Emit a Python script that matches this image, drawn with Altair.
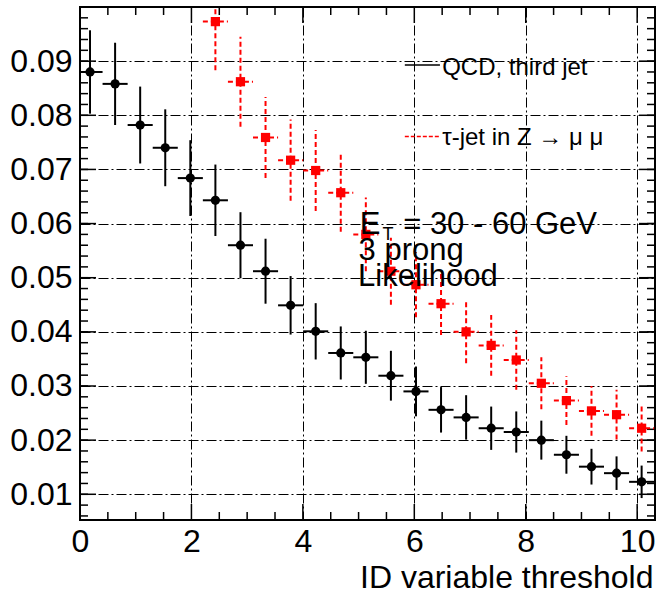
import altair as alt
import pandas as pd
import numpy as np

# ---- data ----
x_centers = [0.18, 0.63, 1.08, 1.53, 1.98, 2.43, 2.88, 3.33, 3.78, 4.23, 4.68, 5.13,
             5.58, 6.03, 6.48, 6.93, 7.38, 7.83, 8.28, 8.73, 9.18, 9.63, 10.08]
bin_half = 0.225
qcd_y = [0.0880, 0.0858, 0.0782, 0.0740, 0.0684, 0.0643, 0.0560, 0.0512, 0.0449, 0.0401,
         0.0361, 0.0353, 0.0319, 0.0290, 0.0256, 0.0242, 0.0222, 0.0215, 0.0200, 0.0173,
         0.0151, 0.0139, 0.0123]
qcd_err = [0.0077, 0.0076, 0.0071, 0.0071, 0.0070, 0.0066, 0.0061, 0.0060, 0.0054, 0.0052,
           0.0049, 0.0049, 0.0046, 0.0046, 0.0042, 0.0041, 0.0040, 0.0038, 0.0036, 0.0035,
           0.0033, 0.0031, 0.0030]
tau_x = x_centers[5:]
tau_y = [0.0973, 0.0862, 0.0759, 0.0717, 0.0698, 0.0657, 0.0580, 0.0512, 0.0487, 0.0452,
         0.0400, 0.0375, 0.0348, 0.0305, 0.0273, 0.0254, 0.0247, 0.0222]
tau_err = [0.0090, 0.0083, 0.0075, 0.0075, 0.0075, 0.0072, 0.0068, 0.0062, 0.0060, 0.0058,
           0.0058, 0.0056, 0.0055, 0.0048, 0.0045, 0.0046, 0.0046, 0.0043]

x_tick_labels = [0, 2, 4, 6, 8, 10]
y_tick_labels = [0.01, 0.02, 0.03, 0.04, 0.05, 0.06, 0.07, 0.08, 0.09]
x_minor = [0.5, 1.0, 1.5, 2.5, 3.0, 3.5, 4.5, 5.0, 5.5, 6.5, 7.0, 7.5, 8.5, 9.0, 9.5]
y_minor = [round(v, 3) for v in np.arange(0.006, 0.1001, 0.002)]

legend_labels = ["QCD, third jet", "τ-jet in Z → μ μ"]

# ---- layout ----
W, H = 575, 513
FONT = "Liberation Sans"
xs = alt.Scale(domain=[0, 10.32], nice=False, zero=False)
ys = alt.Scale(domain=[0.00525, 0.1], nice=False, zero=False)
GRID_DASH = [10, 3, 2, 3]

xaxis = alt.Axis(values=x_tick_labels, format="d", grid=True, gridDash=GRID_DASH,
                 gridColor="black", gridWidth=1, gridOpacity=1, ticks=False, tickSize=0,
                 domain=False, labelFont=FONT, labelFontSize=32, labelColor="black",
                 labelPadding=6, labelFlush=False, labelOverlap=False,
                 title="ID variable threshold", titleFont=FONT, titleFontSize=32,
                 titleFontWeight="normal", titleColor="black", titleAlign="right",
                 titleAnchor="end", titleX=573, titleY=67, titleBaseline="alphabetic")
yaxis = alt.Axis(values=y_tick_labels, format=".2f", grid=True, gridDash=GRID_DASH,
                 gridColor="black", gridWidth=1, gridOpacity=1, ticks=False, tickSize=0,
                 domain=False, labelFont=FONT, labelFontSize=32, labelColor="black",
                 labelPadding=8, labelOverlap=False, title="")


def X(f):
    return alt.X(f, type="quantitative", scale=xs, axis=xaxis)


def Y(f):
    return alt.Y(f, type="quantitative", scale=ys, axis=yaxis)


qcd = pd.DataFrame({"x": x_centers, "y": qcd_y, "e": qcd_err})
qcd["lo"] = qcd["y"] - qcd["e"]
qcd["hi"] = qcd["y"] + qcd["e"]
qcd["xl"] = qcd["x"] - bin_half
qcd["xh"] = qcd["x"] + bin_half

tau = pd.DataFrame({"x": tau_x, "y": tau_y, "e": tau_err})
tau["lo"] = tau["y"] - tau["e"]
tau["hi"] = tau["y"] + tau["e"]
tau["xl"] = tau["x"] - bin_half
tau["xh"] = tau["x"] + bin_half

# ticks (drawn inside, ROOT style)
xmaj = pd.DataFrame({"x": x_tick_labels})
xmin = pd.DataFrame({"x": x_minor})
ymaj = pd.DataFrame({"y": y_tick_labels})
ymin = pd.DataFrame({"y": y_minor})

layers = []
for df, L in ((xmaj, 16), (xmin, 8)):
    base = alt.Chart(df).mark_rule(color="black", strokeWidth=1.5)
    layers.append(base.encode(x=X("x"), y=alt.value(H), y2=alt.value(H - L)))
    layers.append(base.encode(x=X("x"), y=alt.value(0), y2=alt.value(L)))
for df, L in ((ymaj, 16), (ymin, 8)):
    base = alt.Chart(df).mark_rule(color="black", strokeWidth=1.5)
    layers.append(base.encode(y=Y("y"), x=alt.value(0), x2=alt.value(L)))
    layers.append(base.encode(y=Y("y"), x=alt.value(W), x2=alt.value(W - L)))

# QCD series
qb = alt.Chart(qcd)
layers.append(qb.mark_rule(color="black", strokeWidth=2, clip=True)
              .encode(x=X("x"), y=Y("lo"), y2="hi"))
layers.append(qb.mark_rule(color="black", strokeWidth=2, clip=True)
              .encode(x=X("xl"), x2="xh", y=Y("y")))
layers.append(qb.mark_point(shape="circle", filled=True, color="black", size=85, opacity=1, clip=True)
              .encode(x=X("x"), y=Y("y")))

# tau series
tb = alt.Chart(tau)
layers.append(tb.mark_rule(color="#ff0000", strokeWidth=2, strokeDash=[5, 3], clip=True)
              .encode(x=X("x"), y=Y("lo"), y2="hi"))
layers.append(tb.mark_rule(color="#ff0000", strokeWidth=2, strokeDash=[5, 3], clip=True)
              .encode(x=X("xl"), x2="xh", y=Y("y")))
layers.append(tb.mark_point(shape="square", filled=True, color="#ff0000", size=85, opacity=1, clip=True)
              .encode(x=X("x"), y=Y("y")))

# legend
leg_lines = pd.DataFrame({"x": [5.83, 5.83], "x2": [6.46, 6.46], "y": [0.0893, 0.0761],
                          "s": legend_labels})
layers.append(alt.Chart(leg_lines.iloc[[0]]).mark_rule(color="black", strokeWidth=1.5)
              .encode(x=X("x"), x2="x2", y=Y("y")))
layers.append(alt.Chart(leg_lines.iloc[[1]]).mark_rule(color="#ff0000", strokeWidth=1.5, strokeDash=[4, 2])
              .encode(x=X("x"), x2="x2", y=Y("y")))
leg_text = pd.DataFrame({"x": [6.50, 6.50], "y": [0.0875, 0.0746], "t": legend_labels})
layers.append(alt.Chart(leg_text).mark_text(font=FONT, fontSize=24, align="left",
                                            baseline="alphabetic", color="black")
              .encode(x=X("x"), y=Y("y"), text="t:N"))

# annotation text
ann = pd.DataFrame({"x": [5.02, 5.80, 5.00, 4.99],
                    "y": [0.0581, 0.0581, 0.0533, 0.0484],
                    "t": ["E", "= 30 - 60 GeV", "3 prong", "Likelihood"]})
layers.append(alt.Chart(ann).mark_text(font=FONT, fontSize=31, align="left",
                                       baseline="alphabetic", color="black")
              .encode(x=X("x"), y=Y("y"), text="t:N"))
sub = pd.DataFrame({"x": [5.43], "y": [0.0569], "t": ["T"]})
layers.append(alt.Chart(sub).mark_text(font=FONT, fontSize=18, align="left",
                                       baseline="alphabetic", color="black")
              .encode(x=X("x"), y=Y("y"), text="t:N"))

chart = alt.layer(*layers).properties(
    width=W, height=H,
    autosize=alt.AutoSizeParams(type="none"),
    padding={"left": 80, "top": 7, "right": 3, "bottom": 78},
    background="white",
).configure_view(stroke="black", strokeWidth=2)

chart.save("out.html", embed_options={"renderer": "svg", "actions": False})
